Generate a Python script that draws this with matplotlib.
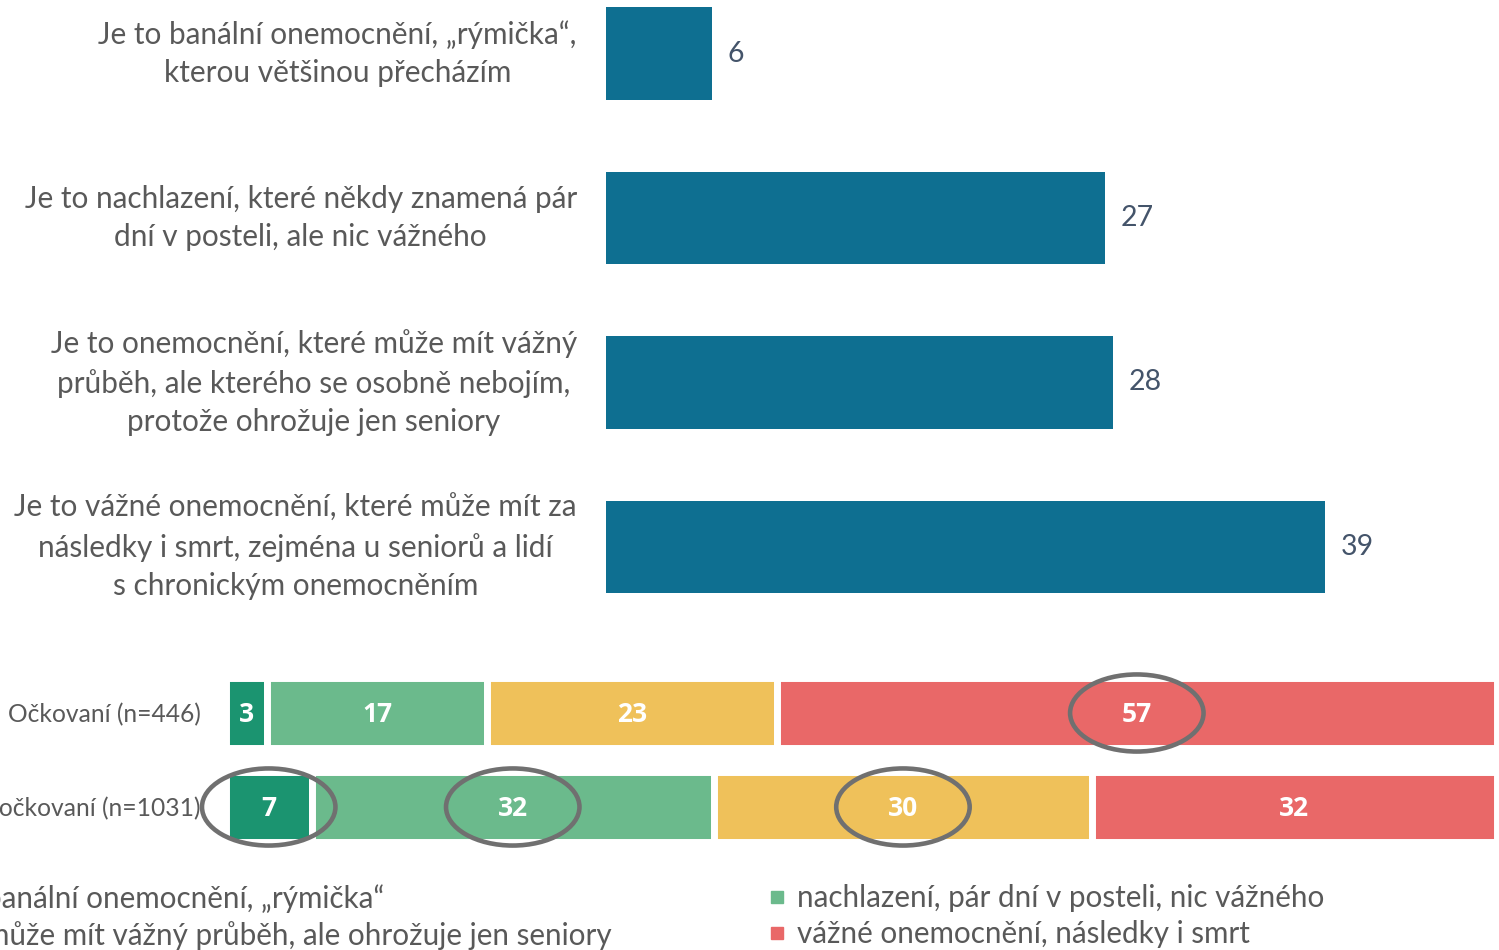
import matplotlib
matplotlib.use('Agg')
import matplotlib.pyplot as plt
from matplotlib.patches import Ellipse
from matplotlib.lines import Line2D

plt.rcParams['font.family'] = ['Lato', 'DejaVu Sans']

# top chart: how people see covid
categories = [
    'Je to banální onemocnění, „rýmička“,\nkterou většinou přecházím',
    'Je to nachlazení, které někdy znamená pár\ndní v posteli, ale nic vážného',
    'Je to onemocnění, které může mít vážný\nprůběh, ale kterého se osobně nebojím,\nprotože ohrožuje jen seniory',
    'Je to vážné onemocnění, které může mít za\nnásledky i smrt, zejména u seniorů a lidí\ns chronickým onemocněním',
]
values = [5.75, 27.06, 27.5, 39.0]

# bottom chart: split by vaccination
groups = ['Očkovaní (n=446)', 'Neočkovaní (n=1031)']
segments = [
    [3.3, 17.3, 22.8, 56.6],
    [6.8, 31.6, 29.8, 31.8],
]
legend_labels = [
    'banální onemocnění, „rýmička“',
    'nachlazení, pár dní v posteli, nic vážného',
    'může mít vážný průběh, ale ohrožuje jen seniory',
    'vážné onemocnění, následky i smrt',
]
# (group index, segment index) of the circled numbers
circled = [(0, 3), (1, 0), (1, 1), (1, 2)]

blue = '#0E6F91'
seg_colors = ['#1B9470', '#6BBA8C', '#EFC15A', '#E96868']
gray = '#595959'

W, H = 1499, 950
fig = plt.figure(figsize=(W / 100, H / 100), dpi=100)

# --- top bars
px = 164.5
ax = fig.add_axes([606 / W, (H - 630) / H, (W - 606) / W, 630 / H])
ypos = list(range(len(categories)))
bars = ax.barh(ypos, values, height=0.565, color=blue)
ax.set_xlim(0, (W - 606) / 18.44)
ax.set_ylim((630 - 53.5) / px, -53.5 / px)
ax.set_yticks(ypos)
ax.set_yticklabels(categories, fontsize=21.4, color=gray)
for t in ax.get_yticklabels():
    t.set_multialignment('center')
    t.set_linespacing(1.45)
    t.set_verticalalignment('center')
ax.tick_params(axis='y', length=0, pad=21)
ax.set_xticks([])
ax.bar_label(bars, labels=['%.0f' % v for v in values], padding=11,
             fontsize=20.5, color='#44546A')
for s in ax.spines.values():
    s.set_visible(False)

# --- stacked bars
bx0, bx1 = 225.5, 1496.5
by0, by1 = 660, 860
row = 94
ax2 = fig.add_axes([bx0 / W, (H - by1) / H, (bx1 - bx0) / W, (by1 - by0) / H])
for gi, segs in enumerate(segments):
    left = 0
    for si, v in enumerate(segs):
        ax2.barh(gi, v, left=left, height=0.755, color=seg_colors[si],
                 edgecolor='white', linewidth=5)
        ax2.text(left + v / 2, gi + 0.02, '%.0f' % v, ha='center', va='center',
                 color='white', fontsize=19, fontweight='bold',
                 family=['Open Sans', 'DejaVu Sans'])
        if (gi, si) in circled:
            ax2.add_patch(Ellipse((left + v / 2, gi), 10.5, 0.82, fill=False,
                                  edgecolor='#707070', linewidth=3.3,
                                  clip_on=False, zorder=5))
        left += v
ax2.set_xlim(0, 100)
ax2.set_ylim(1 + (by1 - 807) / row, -(713 - by0) / row)
ax2.set_yticks(range(len(groups)))
ax2.set_yticklabels(groups, fontsize=17.7, color=gray)
ax2.tick_params(axis='y', length=0, pad=18)
ax2.set_xticks([])
for s in ax2.spines.values():
    s.set_visible(False)

# --- legend, two columns placed by hand (left one runs off the canvas)
handles = [Line2D([], [], marker='s', linestyle='none', markersize=8,
                  color=c) for c in seg_colors]
common = dict(frameon=False, fontsize=21.3, labelcolor=gray, loc='upper left',
              handlelength=0.56, handletextpad=0.38, borderpad=0,
              borderaxespad=0, labelspacing=0.27)
fig.legend([handles[0], handles[2]], [legend_labels[0], legend_labels[2]],
           bbox_to_anchor=(-43 / W, (H - 884) / H), **common)
fig.legend([handles[1], handles[3]], [legend_labels[1], legend_labels[3]],
           bbox_to_anchor=(768.7 / W, (H - 884) / H), **common)

fig.savefig('out.png', dpi=100)
